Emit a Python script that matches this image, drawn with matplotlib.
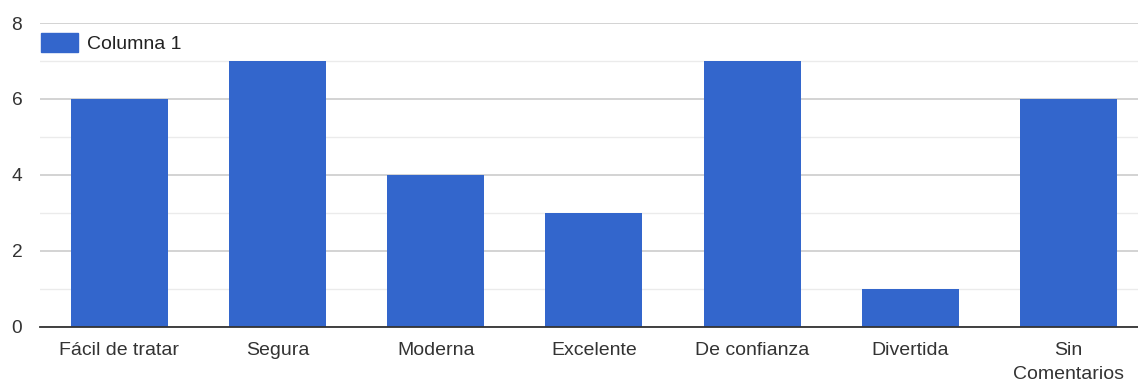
import matplotlib
matplotlib.use("Agg")
import matplotlib.pyplot as plt
from matplotlib.patches import Patch
from matplotlib.transforms import offset_copy

categories = ["Fácil de tratar", "Segura", "Moderna", "Excelente",
              "De confianza", "Divertida", "Sin\nComentarios"]
values = [6, 7, 4, 3, 7, 1, 6]
series_name = "Columna 1"
y_ticks = [0, 2, 4, 6, 8]

plt.rcParams["font.family"] = ["Liberation Sans", "DejaVu Sans"]

W, H = 1138, 381
fig = plt.figure(figsize=(W / 100, H / 100), dpi=100)
# plot area runs slightly past the right edge of the canvas
ax = fig.add_axes([40.4 / W, 1 - 326.5 / H, 1107 / W, (326.5 - 23) / H])

bar_color = "#3366cc"
x = list(range(len(categories)))
ax.bar(x, values, width=0.613, color=bar_color, zorder=3)

ax.set_xlim(-0.5, len(categories) - 0.5)
ax.set_ylim(0, 8)
ax.set_yticks(y_ticks)
ax.set_yticks([1, 3, 5, 7], minor=True)
ax.set_xticks(x)
ax.set_xticklabels([])

ax.grid(axis="y", which="major", color="#cccccc", linewidth=1.2, zorder=0)
ax.grid(axis="y", which="minor", color="#ebebeb", linewidth=1.0, zorder=0)
ax.grid(axis="x", visible=False)

for s in ["top", "right", "left"]:
    ax.spines[s].set_visible(False)
ax.spines["bottom"].set_color("#333333")
ax.spines["bottom"].set_linewidth(1.3)
ax.spines["bottom"].set_zorder(4)

ax.tick_params(axis="both", which="both", length=0, colors="#333333")
ax.tick_params(axis="y", pad=13, labelsize=13.8)

# category labels, each line placed on its own baseline
xtrans = ax.get_xaxis_transform()
for xi, label in zip(x, categories):
    for j, line in enumerate(label.split("\n")):
        tr = offset_copy(xtrans, fig=fig, x=0, y=-(28.5 + 24 * j), units="dots")
        ax.text(xi, 0, line, transform=tr, ha="center", va="baseline",
                fontsize=14, color="#333333", clip_on=False)

leg = fig.legend(handles=[Patch(color=bar_color, label=series_name)],
                 loc="upper left", bbox_to_anchor=(40.5 / W, 1 - 33 / H),
                 frameon=False, fontsize=14, handlelength=1.95,
                 handleheight=1.1, handletextpad=0.45, borderpad=0,
                 borderaxespad=0)
for t in leg.get_texts():
    t.set_color("#222222")

fig.savefig("out.png", dpi=100, facecolor="white")
